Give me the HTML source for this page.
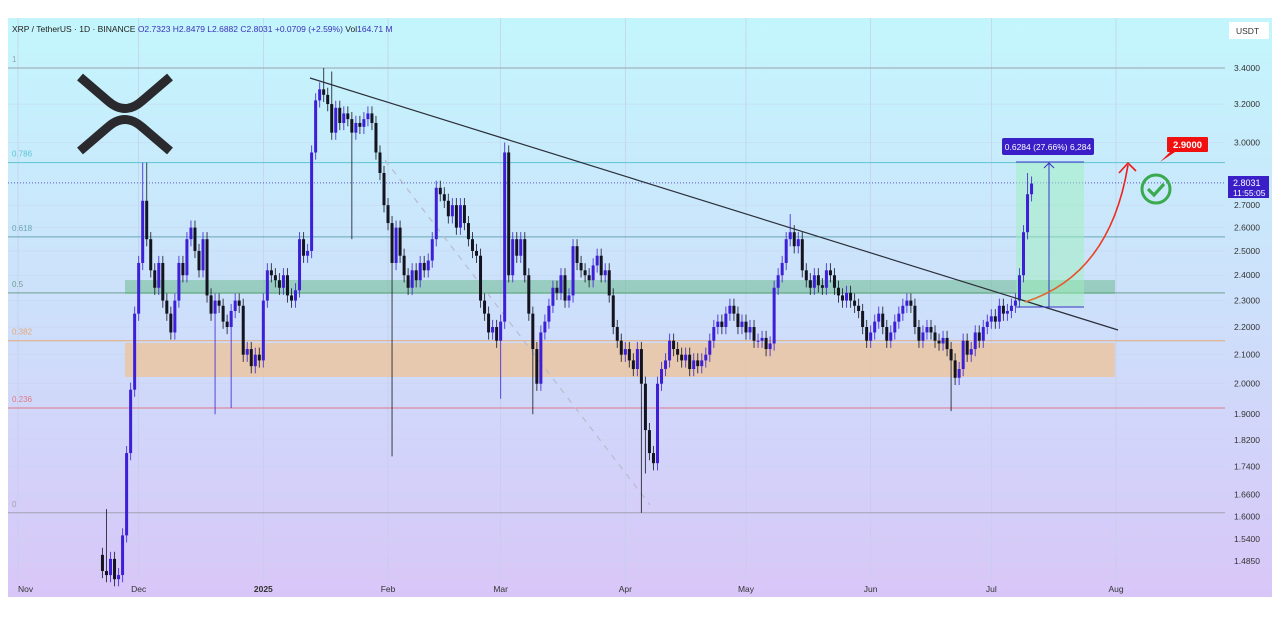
<!DOCTYPE html>
<html><head><meta charset="utf-8">
<style>
html,body{margin:0;padding:0;background:#fff;}
body{width:1280px;height:622px;overflow:hidden;position:relative;font-family:"Liberation Sans",sans-serif;}
svg{position:absolute;left:0;top:0;}
</style></head>
<body>
<svg id="chart" width="1280" height="622" viewBox="0 0 1280 622" xmlns="http://www.w3.org/2000/svg">
<defs>
<linearGradient id="bg" x1="0" y1="0" x2="0" y2="1">
<stop offset="0" stop-color="#c3f6fc"/><stop offset="0.5" stop-color="#cde0fb"/><stop offset="1" stop-color="#d8c6f8"/>
</linearGradient>
<linearGradient id="arr" x1="0" y1="1" x2="1" y2="0">
<stop offset="0" stop-color="#e07030"/><stop offset="1" stop-color="#f01818"/>
</linearGradient>
</defs>
<rect x="8" y="18" width="1264" height="579" fill="url(#bg)"/>
<g id="grid"></g>
<g id="fib"></g>
<rect x="125" y="280" width="990" height="14" fill="#5cb47a" opacity="0.45"/>
<rect x="125" y="343" width="990" height="34" fill="#e8c7a6" opacity="0.9"/>
<rect x="1016" y="162" width="68" height="145" fill="#9ef0bc" opacity="0.5"/>
<line x1="385" y1="160" x2="650" y2="505" stroke="#b8bccc" stroke-width="1.2" stroke-dasharray="6,6"/>
<g id="candles"></g>
<line x1="310" y1="78" x2="1118" y2="330" stroke="#2b2f3a" stroke-width="1.2"/>
<g fill="none" stroke="#2a2a2e" stroke-width="9" stroke-linecap="butt">
<path d="M80 77 L108 101 Q125 116 142 101 L170 77"/>
<path d="M80 151 L108 127 Q125 112 142 127 L170 151"/>
</g>
<g>
<line x1="1016" y1="162" x2="1084" y2="162" stroke="#3a30c8" stroke-width="1"/>
<line x1="1016" y1="307" x2="1084" y2="307" stroke="#3a30c8" stroke-width="1"/>
<line x1="1049" y1="307" x2="1049" y2="163" stroke="#3a30c8" stroke-width="1"/>
<path d="M1044 168 L1049 163 L1054 168" fill="none" stroke="#3a30c8" stroke-width="1"/>
<rect x="1002" y="138" width="92" height="17" rx="2" fill="#3a1fc8"/>
<text x="1048" y="150" font-size="8.5" fill="#fff" text-anchor="middle">0.6284 (27.66%) 6,284</text>
</g>
<g fill="none" stroke="url(#arr)" stroke-width="1.6">
<path d="M1025 302 Q1110 275 1128 165"/>
<path d="M1119 173 L1128 163 L1136 171" stroke="#f01818"/>
</g>
<g>
<path d="M1160 162 L1172 150 L1178 150 Z" fill="#f01010"/>
<rect x="1167" y="137" width="41" height="15" rx="1" fill="#f01010"/>
<text x="1187.5" y="148" font-size="9.5" font-weight="bold" fill="#fff" text-anchor="middle">2.9000</text>
</g>
<g>
<circle cx="1156" cy="189" r="14" fill="none" stroke="#3aaa4e" stroke-width="3"/>
<path d="M1148 189 L1154 195 L1164 184" fill="none" stroke="#3aaa4e" stroke-width="3.2"/>
</g>
<g id="yaxis"></g>
<g>
<rect x="1228" y="176" width="41" height="22" fill="#3a1fc8"/>
<text x="1233" y="186" font-size="9" fill="#fff">2.8031</text>
<text x="1233" y="196" font-size="8.5" fill="#fff">11:55:05</text>
</g>
<g>
<rect x="1229" y="22" width="40" height="17" fill="#fff"/>
<text x="1236" y="34" font-size="8.5" fill="#333">USDT</text>
</g>
<g id="xaxis"></g>
<text x="12" y="32" font-size="8.5" fill="#222">XRP / TetherUS · 1D · BINANCE  <tspan fill="#3a30b8">O2.7323  H2.8479  L2.6882  C2.8031  +0.0709 (+2.59%)</tspan>  Vol<tspan fill="#3a30b8">164.71 M</tspan></text>
</svg>
<script>
const closes = [
1.46,1.45,1.49,1.44,1.45,1.55,1.78,1.98,2.25,
2.45,2.72,2.55,2.42,2.35,2.45,2.30,2.25,2.18,2.30,2.45,2.40,2.55,2.60,2.50,2.42,2.55,2.32,2.25,2.30,2.28,2.22,2.20,2.26,2.30,2.28,2.10,2.12,2.06,2.10,2.08,
2.30,2.42,2.40,2.38,2.35,2.40,2.32,2.30,2.34,2.55,2.48,2.50,2.95,3.22,3.28,3.25,3.20,3.05,3.18,3.10,3.15,3.12,3.05,3.10,3.08,3.12,3.15,3.10,2.95,2.85,2.70,
2.62,2.45,2.60,2.48,2.40,2.35,2.42,2.38,2.45,2.42,2.46,2.55,2.78,2.75,2.72,2.65,2.70,2.60,2.70,2.62,2.55,2.50,2.48,2.30,2.25,2.18,2.20,2.15,
2.22,2.95,2.40,2.55,2.48,2.55,2.40,2.25,2.12,2.00,2.18,2.22,2.28,2.35,2.33,2.40,2.30,2.32,2.52,2.45,2.42,2.40,2.38,2.44,2.48,2.40,2.42,2.32,2.20,2.15,2.10,
2.12,2.08,2.05,2.12,2.00,1.85,1.78,1.75,2.00,2.05,2.08,2.15,2.12,2.10,2.08,2.10,2.05,2.08,2.06,2.08,2.10,2.15,2.20,2.22,2.20,2.25,2.28,2.25,2.20,2.22,
2.18,2.20,2.15,2.15,2.16,2.12,2.14,2.35,2.40,2.45,2.55,2.58,2.52,2.55,2.42,2.38,2.35,2.40,2.36,2.35,2.42,2.40,2.35,2.32,2.30,2.33,2.30,2.28,2.26,2.20,2.15,
2.18,2.22,2.25,2.20,2.15,2.18,2.22,2.25,2.28,2.30,2.28,2.20,2.15,2.18,2.20,2.18,2.15,2.14,2.16,2.12,2.08,2.02,2.05,2.15,2.10,2.12,2.18,2.15,2.20,2.22,
2.24,2.22,2.28,2.25,2.26,2.28,2.30,2.40,2.58,2.75,2.80
];
const firstOpen = 1.50;
const wickExtremes = [[1,"h",1.62],[10,"h",2.90],[11,"h",2.90],[28,"l",1.90],[32,"l",1.92],[55,"h",3.40],[57,"h",3.38],[62,"l",2.55],[72,"l",1.77],[99,"l",1.95],[100,"h",3.00],[107,"l",1.90],[134,"l",1.61],[135,"l",1.72],[171,"h",2.66],[211,"l",1.91],[230,"h",2.85]];
const yTicks = [3.4,3.2,3.0,2.7,2.6,2.5,2.4,2.3,2.2,2.1,2.0,1.9,1.82,1.74,1.66,1.60,1.54,1.485];
const monthLabels = ["Nov","Dec","2025","Feb","Mar","Apr","May","Jun","Jul","Aug"];
const monthDays = [0,30,61,92,120,151,181,212,242,273];
const fibLabels = ["1","0.786","0.618","0.5","0.382","0.236","0"];
const fibPrices = [3.40,2.90,2.56,2.33,2.15,1.92,1.61];
const fibColors = ["#9aa4ae","#5cc3d3","#6aa6b6","#6e9e8c","#e5a877","#e07888","#a2a2b4"];

const NS="http://www.w3.org/2000/svg";
function yS(p){return 68+(Math.log(3.4)-Math.log(p))*595;}
function xS(day){return 18+day*4.022;}
function mk(tag,attrs,parent){const e=document.createElementNS(NS,tag);for(const k in attrs)e.setAttribute(k,attrs[k]);parent.appendChild(e);return e;}

const grid=document.getElementById('grid');
monthDays.forEach(d=>{const l=mk('line',{x1:xS(d),x2:xS(d),y1:18,y2:580,stroke:'#c4cde8','stroke-width':0.7},grid);

});
yTicks.forEach(p=>{const l=mk('line',{x1:8,x2:1225,y1:yS(p),y2:yS(p),stroke:'#c8d4ee','stroke-width':0.5},grid);

});

const fib=document.getElementById('fib');
fibPrices.forEach((p,i)=>{const y=yS(p);
const l=mk('line',{x1:8,x2:1225,y1:y,y2:y,stroke:fibColors[i],'stroke-width':1},fib);


const t=mk('text',{x:12,y:y-6,'font-size':8,fill:fibColors[i]},fib);t.textContent=fibLabels[i];

});
const cp=mk('line',{x1:8,x2:1225,y1:yS(2.8031),y2:yS(2.8031),stroke:'#5a56c8','stroke-width':1,'stroke-dasharray':'1,2'},fib);



const cg=document.getElementById('candles');
closes.forEach((c,i)=>{
  const o=i===0?firstOpen:closes[i-1];
  let h=Math.max(o,c)*1.012,l=Math.min(o,c)*0.988;
  wickExtremes.forEach(w=>{if(w[0]===i){if(w[1]==="h")h=w[2];else l=w[2];}});
  const x=xS(21+i);const col=c>=o?'#3d1fd8':'#141420';
  const wk=mk('line',{x1:x,x2:x,y1:yS(h),y2:yS(l),stroke:col,'stroke-width':1,opacity:0.8},cg);
  
  
  const top=yS(Math.max(o,c)),bot=yS(Math.min(o,c));
  const b=mk('rect',{x:x-1.5,y:top,width:3,height:Math.max(1,bot-top),fill:col},cg);
  
  
});

const ya=document.getElementById('yaxis');
yTicks.forEach(p=>{const t=mk('text',{x:1234,y:yS(p)+3,'font-size':8.5,fill:'#333'},ya);t.textContent=p.toFixed(4);

});
const xa=document.getElementById('xaxis');
monthLabels.forEach((m,i)=>{const t=mk('text',{x:xS(monthDays[i]),y:592,'font-size':8.5,fill:'#333','text-anchor':i===0?'start':'middle','font-weight':m==='2025'?'bold':'normal'},xa);t.textContent=m;

});
</script>
</body></html>
